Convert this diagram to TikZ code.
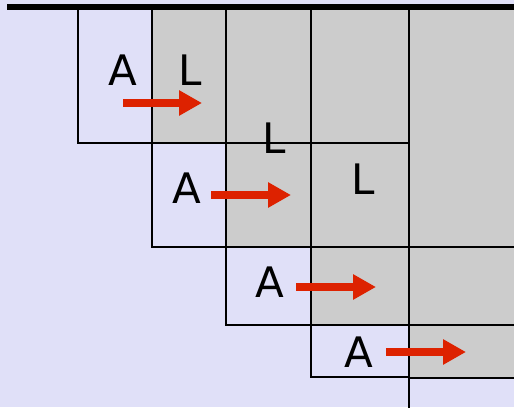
\documentclass[tikz,border=0pt]{standalone}
\usepackage{fontspec}
\setmainfont{DejaVu Sans}
\usetikzlibrary{arrows.meta}
\definecolor{lav}{RGB}{224,224,248}
\definecolor{cellgray}{RGB}{204,204,204}
\definecolor{pushred}{RGB}{221,34,0}

\begin{document}
\begin{tikzpicture}[x=1pt,y=-1pt,
    cell/.style={draw=black,line width=2pt},
    lbl/.style={inner sep=0pt,font=\fontsize{42}{42}\selectfont},
    push/.style={draw=pushred,line width=8.5pt,-{Triangle[length=23pt,width=24pt]}}]
      \useasboundingbox (0,0) rectangle (514,407);
      \clip (0,0) rectangle (514,407);
      \fill [lav] (0,0) rectangle (514,407);
      \fill [cellgray] (152,7) -- (520,7) -- (520,378) -- (409,378) -- (409,325)
        -- (311,325) -- (311,247) -- (226,247) -- (226,143) -- (152,143) -- cycle;

      % cells, left to right and top to bottom
      \foreach \xa/\ya/\xb/\yb in {78/7/152/143, 152/7/226/143, 226/7/311/143,
          311/7/409/143, 409/7/520/247, 152/143/226/247, 226/143/311/247,
          311/143/409/247, 226/247/311/325, 311/247/409/325, 409/247/520/325,
          311/325/409/377, 409/325/520/378, 409/378/520/420}
        \draw [cell] (\xa,\ya) rectangle (\xb,\yb);
      \draw [line width=6pt] (7,6.5) -- (520,6.5);

      \node [lbl] (a1) at (123,70.5) {A};
      \node [lbl] (a2) at (187,188.5) {A};
      \node [lbl] (a3) at (270,282.5) {A};
      \node [lbl] (a4) at (359,352) {A};
      \node [lbl] (l1) at (190.5,70.5) {L};
      \node [lbl] (l2) at (274,138.5) {L};
      \node [lbl] (l3) at (363,179.5) {L};

      \foreach \i/\xs/\xe/\y in {1/123/202/103, 2/211/291/195,
          3/296/376/287, 4/386/466/352}
      {
        \coordinate (s\i) at (\xs,\y);
        \coordinate (e\i) at (\xe,\y);
        \draw [push] (s\i) -- (e\i);
      }
    \end{tikzpicture}
\end{document}
